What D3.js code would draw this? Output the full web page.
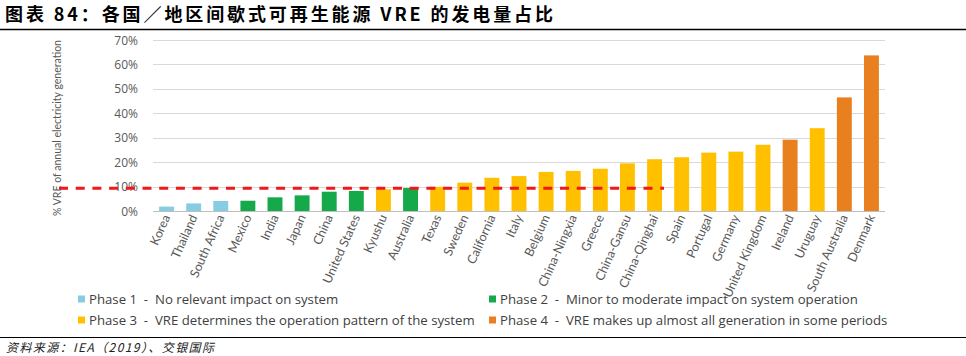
<!DOCTYPE html>
<html><head><meta charset="utf-8">
<script src="https://cdn.jsdelivr.net/npm/d3@7"></script>
<style>
html,body{margin:0;padding:0;background:#fff;}
svg{display:block;}
text{white-space:pre;}
</style></head>
<body>
<script>
const categories = ["Korea","Thailand","South Africa","Mexico","India","Japan","China","United States","Kyushu","Australia","Texas","Sweden","California","Italy","Belgium","China-Ningxia","Greece","China-Gansu","China-Qinghai","Spain","Portugal","Germany","United Kingdom","Ireland","Uruguay","South Australia","Denmark"];
const values = [1.8,3.1,4.1,4.2,5.6,6.4,7.9,8.2,8.9,9.4,9.9,11.6,13.6,14.3,16.0,16.4,17.3,19.5,21.2,22.0,23.9,24.3,27.1,29.2,33.9,46.5,63.7];
const phases = [1,1,1,2,2,2,2,2,3,2,3,3,3,3,3,3,3,3,3,3,3,3,3,4,3,4,4];
const yTicks = [0,10,20,30,40,50,60,70];
const thresholdValue = 9.3;
const thresholdEnd = "China-Qinghai";
const phaseNames = ["Phase 1  -  No relevant impact on system","Phase 2  -  Minor to moderate impact on system operation","Phase 3  -  VRE determines the operation pattern of the system","Phase 4  -  VRE makes up almost all generation in some periods"];
const phaseColors = ["#86cce3","#16a94a","#ffc000","#e8801f"];
const titleText = "图表 84：各国／地区间歇式可再生能源 VRE 的发电量占比";
const sourceText = "资料来源：IEA（2019）、交银国际";
const yTitle = "% VRE of annual electricity generation";

const W = 966, H = 356;
const svg = d3.select("body").append("svg").attr("width", W).attr("height", H);

// title
svg.append("text").attr("x", 5).attr("y", 21)
  .attr("font-family", "'Noto Sans CJK SC'").attr("font-weight", "bold")
  .attr("font-size", 18).attr("fill", "#000")
  .attr("textLength", 548).attr("lengthAdjust", "spacing")
  .text(titleText);
svg.append("line").attr("x1", 0).attr("x2", W).attr("y1", 29.5).attr("y2", 29.5)
  .attr("stroke", "#000").attr("stroke-width", 1.5);

const x = d3.scaleBand().domain(categories).range([153, 885]).paddingInner(0.45).paddingOuter(0.225);
const y = d3.scaleLinear().domain([0, 70]).range([211, 40]);

// gridlines
svg.append("g").selectAll("line").data(yTicks.filter(d => d > 0)).join("line")
  .attr("x1", 153).attr("x2", 885)
  .attr("y1", d => Math.round(y(d)) + 0.5).attr("y2", d => Math.round(y(d)) + 0.5)
  .attr("stroke", "#d9d9d9").attr("stroke-width", 1);

// y labels
svg.append("g").selectAll("text").data(yTicks).join("text")
  .attr("x", 138).attr("y", d => y(d) + 4.5)
  .attr("text-anchor", "end")
  .attr("font-family", "'Open Sans'").attr("font-size", 12).attr("fill", "#595959")
  .text(d => d + "%");

// y title
svg.append("text")
  .attr("transform", `translate(61,128) rotate(-90)`)
  .attr("text-anchor", "middle")
  .attr("font-family", "Lato").attr("font-size", 12).attr("fill", "#595959")
  .attr("textLength", 176).attr("lengthAdjust", "spacingAndGlyphs")
  .text(yTitle);

// bars
svg.append("g").selectAll("rect").data(categories).join("rect")
  .attr("x", d => x(d)).attr("width", x.bandwidth())
  .attr("y", (d, i) => y(values[i])).attr("height", (d, i) => y(0) - y(values[i]))
  .attr("fill", (d, i) => phaseColors[phases[i] - 1]);

// baseline
svg.append("line").attr("x1", 153).attr("x2", 885).attr("y1", 211.5).attr("y2", 211.5)
  .attr("stroke", "#bfbfbf").attr("stroke-width", 1);

// x labels
svg.append("g").selectAll("text").data(categories).join("text")
  .attr("transform", d => `translate(${x(d) + x.bandwidth() / 2 + 4},217) rotate(-66)`)
  .attr("text-anchor", "end")
  .attr("font-family", "Lato").attr("font-size", 12.5).attr("fill", "#595959")
  .text(d => d);

// threshold dashed line
svg.append("line")
  .attr("x1", 59).attr("x2", x(thresholdEnd) + x.bandwidth() + 2)
  .attr("y1", y(thresholdValue)).attr("y2", y(thresholdValue))
  .attr("stroke", "#f01818").attr("stroke-width", 3)
  .attr("stroke-dasharray", "9,7.7");

// legend
const legPos = [[78, 299], [489, 299], [78, 320], [489, 320]];
const leg = svg.append("g").selectAll("g").data(phaseNames).join("g")
  .attr("transform", (d, i) => `translate(${legPos[i][0]},${legPos[i][1]})`);
leg.append("rect").attr("x", 0).attr("y", -3.5).attr("width", 7).attr("height", 7)
  .attr("fill", (d, i) => phaseColors[i]);
leg.append("text").attr("x", 11).attr("y", 4.5)
  .attr("font-family", "'Open Sans'").attr("font-size", 13.2).attr("fill", "#404040")
  .text(d => d);

// bottom rule and source
svg.append("line").attr("x1", 0).attr("x2", W).attr("y1", 337.5).attr("y2", 337.5)
  .attr("stroke", "#000").attr("stroke-width", 1.2);
svg.append("text").attr("x", 6).attr("y", 352)
  .attr("font-family", "'Noto Sans CJK SC'").attr("font-style", "italic")
  .attr("font-size", 12).attr("fill", "#222")
  .attr("textLength", 208).attr("lengthAdjust", "spacing")
  .text(sourceText);
</script>
</body></html>
